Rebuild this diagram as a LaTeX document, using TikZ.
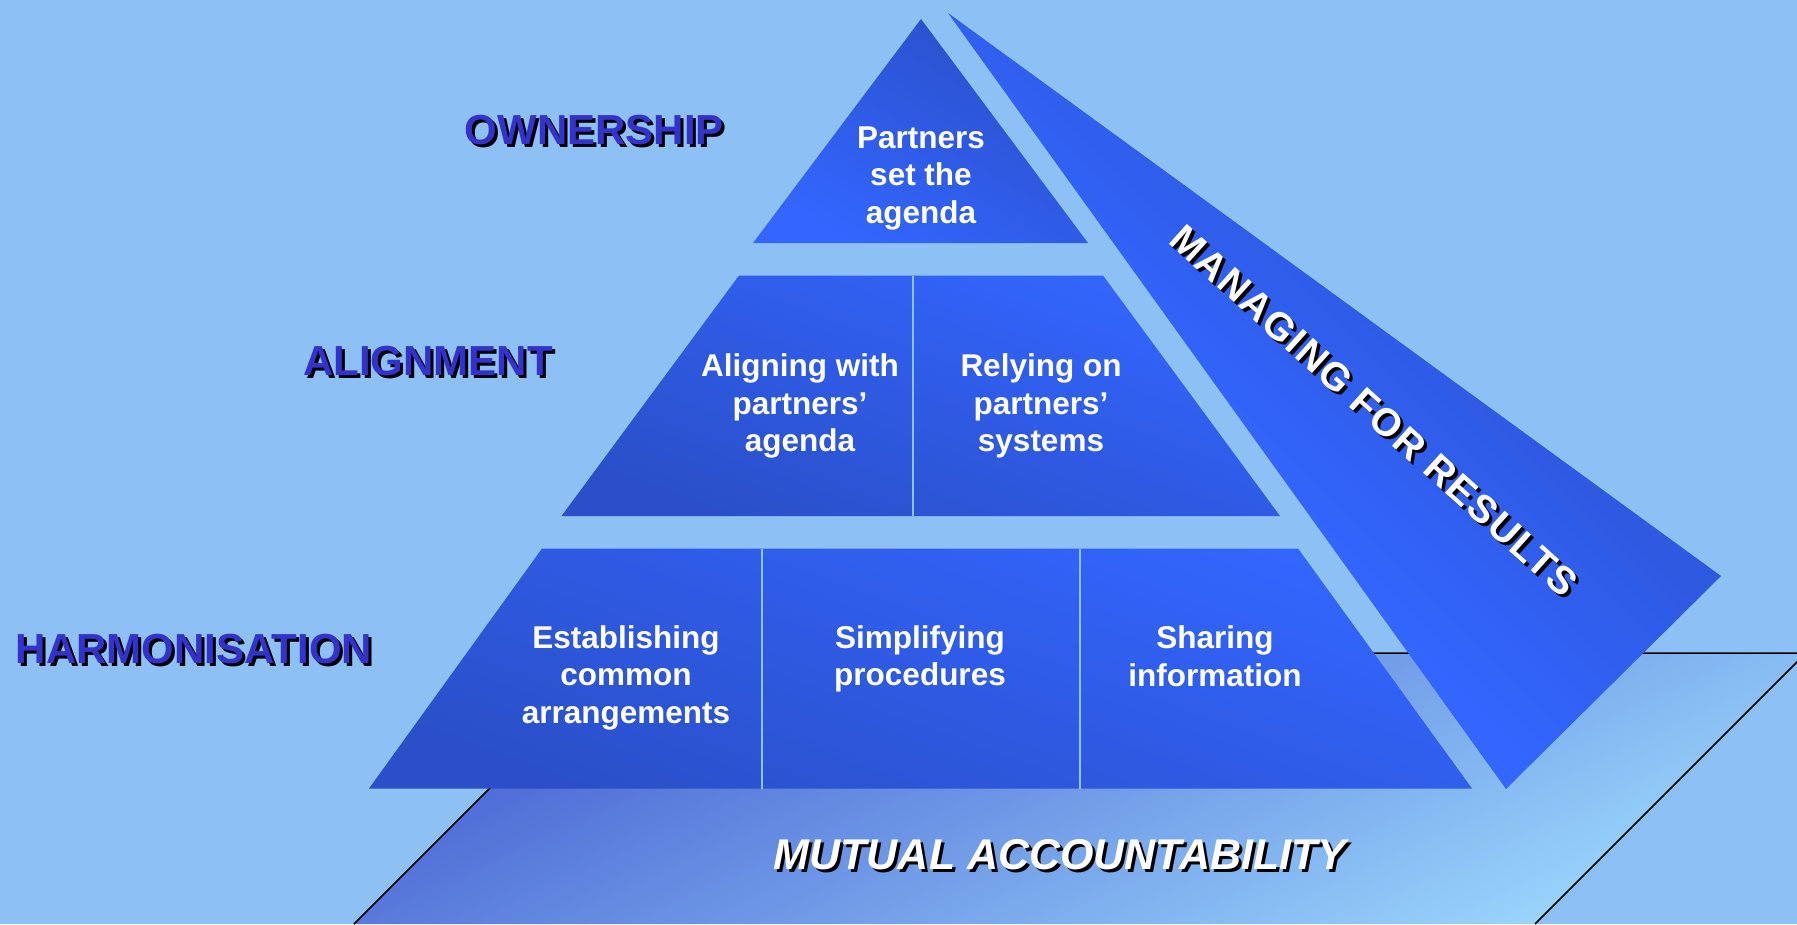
\documentclass[tikz,border=0pt]{standalone}
\usepackage{fontspec}
\setmainfont{Liberation Sans}
\definecolor{bg}{HTML}{8DC0F5}
\definecolor{bright}{HTML}{3366FF}
\definecolor{dark}{HTML}{2A4FC8}
\definecolor{lblblue}{HTML}{3333CC}
\definecolor{floordark}{HTML}{4660D2}
\definecolor{floorlight}{HTML}{9AD6FC}
\pgfdeclareverticalshading{stripshade}{100bp}{color(0bp)=(bright); color(42bp)=(bright); color(72bp)=(dark); color(100bp)=(dark)}
\newcommand{\shtext}[3]{\makebox[0pt][l]{\hspace*{#1}\raisebox{#2}{\textcolor{black}{#3}}}#3}
\tikzset{
  lbl/.style={font=\bfseries\fontsize{42}{50}\selectfont, text=lblblue, anchor=base, inner sep=0pt},
  cell/.style={font=\bfseries\fontsize{31.5}{37.5}\selectfont, text=white, align=center, inner sep=0pt},
  divider/.style={draw=bg, line width=2pt},
  mfr/.style={font=\bfseries\fontsize{39}{45}\selectfont\addfontfeature{LetterSpace=5}, text=white, rotate=-42, inner sep=0pt},
  mutual/.style={font=\bfseries\itshape\fontsize{43}{50}\selectfont, text=white, anchor=base, inner sep=0pt},
}
\begin{document}
\begin{tikzpicture}[x=1pt,y=-1pt]
\useasboundingbox (0,0) rectangle (1797,924);
\fill[bg] (0,0) rectangle (1797,924);
% floor: mutual accountability
\coordinate (fTL) at (625,653);
\coordinate (fTR) at (1806,653);
\coordinate (fBR) at (1535,924);
\coordinate (fBL) at (354,924);
\begin{scope}
\clip (0,0) rectangle (1797,924);
\shade[top color=floordark, bottom color=floorlight, shading angle=25] (fTL) -- (fTR) -- (fBR) -- (fBL) -- cycle;
\draw[black, line width=1.5pt] (fBL) -- (fTL) -- (fTR) -- (fBR);
\end{scope}
% managing for results strip
\coordinate (sT) at (948,13);
\coordinate (sR) at (1721,576);
\coordinate (sB) at (1506,789);
\shade[shading=stripshade, shading angle=-45] (sT) -- (sR) -- (sB) -- cycle;
% top triangle
\coordinate (tA) at (921,19);
\coordinate (tR) at (1088,243);
\coordinate (tL) at (753,243);
\shade[top color=dark, bottom color=bright, shading angle=-30] (tA) -- (tR) -- (tL) -- cycle;
% middle trapezoid
\coordinate (mTL) at (739,275.5);
\coordinate (mTR) at (1103,275.5);
\coordinate (mBR) at (1280,516);
\coordinate (mBL) at (561.5,516);
\shade[top color=bright, bottom color=dark, shading angle=-20] (mTL) -- (mTR) -- (mBR) -- (mBL) -- cycle;
\coordinate (mD1) at (913,275.5);
\coordinate (mD2) at (913,516);
\draw[divider] (mD1) -- (mD2);
% bottom trapezoid
\coordinate (bTL) at (542,548.5);
\coordinate (bTR) at (1298,548.5);
\coordinate (bBR) at (1472,788.5);
\coordinate (bBL) at (369,788.5);
\shade[top color=bright, bottom color=dark, shading angle=-20] (bTL) -- (bTR) -- (bBR) -- (bBL) -- cycle;
\coordinate (bD1) at (762,548.5);
\coordinate (bD2) at (762,788.5);
\coordinate (bD3) at (1080,548.5);
\coordinate (bD4) at (1080,788.5);
\draw[divider] (bD1) -- (bD2);
\draw[divider] (bD3) -- (bD4);
% cell texts
\node[cell] (ptop) at (921,178) {Partners\\set the\\agenda};
\node[cell] (pml) at (800,406) {Aligning with\\partners’\\agenda};
\node[cell] (pmr) at (1041,406) {Relying on\\partners’\\systems};
\node[cell] (pbl) at (626,677.5) {Establishing\\common\\arrangements};
\node[cell] (pbm) at (920,659) {Simplifying\\procedures};
\node[cell] (pbr) at (1215,656) {Sharing\\information};
% level labels with shadow
\node[lbl] (own) at (594.5,144) {\shtext{3pt}{-3pt}{OWNERSHIP}};
\node[lbl] (ali) at (428,375) {\shtext{3pt}{-3pt}{ALIGNMENT}};
\node[lbl] (har) at (194,663) {\shtext{3pt}{-3pt}{HARMONISATION}};
% managing for results
\node[mfr] (mfr) at (1374,411) {\shtext{4.2pt}{-0.2pt}{MANAGING FOR RESULTS}};
% mutual accountability
\node[mutual] (mut) at (1060,869) {\shtext{3pt}{-3pt}{MUTUAL ACCOUNTABILITY}};
\end{tikzpicture}
\end{document}
